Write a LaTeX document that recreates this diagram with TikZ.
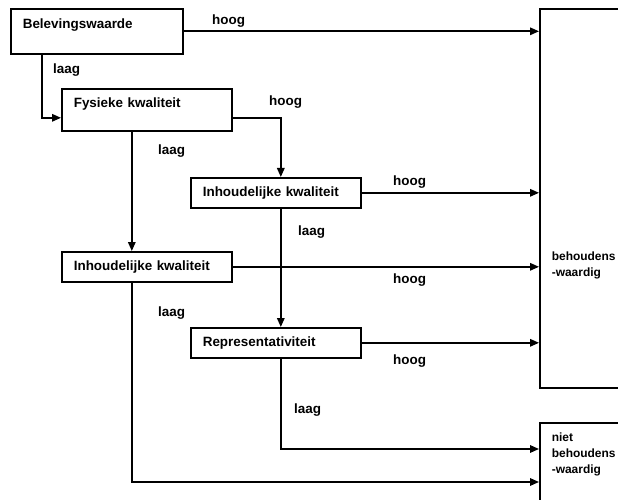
\documentclass[tikz,border=0pt]{standalone}
\usepackage{fontspec}
\setmainfont{Liberation Sans}
\usetikzlibrary{arrows.meta}
\tikzset{x=1bp,y=-1bp,
         vak/.style={draw,line width=1.6bp,anchor=north west,inner xsep=12bp,inner ysep=0pt,
                     align=left,font=\bfseries\fontsize{13.5}{16}\selectfont},
         eind/.style={vak,text width=80bp,font=\bfseries\fontsize{12}{16}\selectfont},
         tak/.style={anchor=west,inner sep=0pt,font=\bfseries\fontsize{13.5}{16}\selectfont},
         pijl/.style={line width=1.6bp,-{Triangle[length=9bp,width=7.5bp]}}}

\begin{document}
\begin{tikzpicture}
    \clip (0,0) rectangle (618,500);
    \node[vak,text width=148bp,text height=20bp,text depth=25bp] (belev) at (10,8) {Belevingswaarde};
    \node[vak,text width=146bp,text height=18.5bp,text depth=23.5bp] (fysiek) at (61,88) {Fysieke kwaliteit};
    \node[vak,text width=146bp,minimum height=30bp] (inhoud2) at (190,177) {Inhoudelijke kwaliteit};
    \node[vak,text width=146bp,minimum height=30bp] (inhoud1) at (61,251) {Inhoudelijke kwaliteit};
    \node[vak,text width=146bp,minimum height=30bp] (repr) at (190,327) {Representativiteit};
    \node[eind,text height=252bp,text depth=127bp] (behoud) at (539,8) {behoudens\\-waardig};
    \node[eind,text height=19bp,text depth=79bp] (niet) at (539,422) {niet\\behoudens\\-waardig};

    \draw[pijl] (belev.east) -- (belev.east -| behoud.west);
    \draw[pijl] ([xshift=32bp]belev.south west) |- ([yshift=-8bp]fysiek.west);
    \draw[pijl] ([yshift=-8bp]fysiek.east) -| ([xshift=5bp]inhoud2.north);
    \draw[pijl] ([xshift=-15bp]fysiek.south) -- ([xshift=-15bp]inhoud1.north);
    \draw[pijl] (inhoud2.east) -- (inhoud2.east -| behoud.west);
    \draw[pijl] ([xshift=5bp]inhoud2.south) -- ([xshift=5bp]repr.north);
    \draw[pijl] (inhoud1.east) -- (inhoud1.east -| behoud.west);
    \draw[pijl] (repr.east) -- (repr.east -| behoud.west);
    \draw[pijl] ([xshift=5bp]repr.south) |- ([yshift=-27bp]niet.north west);
    \draw[pijl] ([xshift=-15bp]inhoud1.south) |- ([yshift=-60bp]niet.north west);

    \node[tak] (h1) at (212,21) {hoog};
    \node[tak] (l1) at (53,70) {laag};
    \node[tak] (h2) at (269,102) {hoog};
    \node[tak] (l2) at (158,151) {laag};
    \node[tak] (h3) at (393,182) {hoog};
    \node[tak] (l3) at (298,232) {laag};
    \node[tak] (h4) at (393,280) {hoog};
    \node[tak] (l4) at (158,313) {laag};
    \node[tak] (h5) at (393,361) {hoog};
    \node[tak] (l5) at (294,410) {laag};
\end{tikzpicture}
\end{document}
